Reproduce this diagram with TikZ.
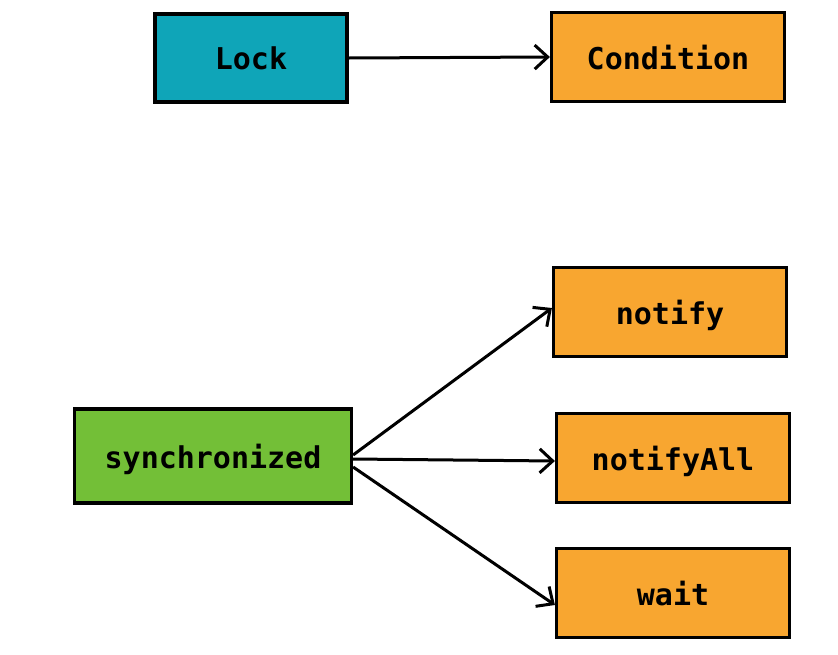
\documentclass[tikz,border=0pt]{standalone}
\usepackage{fontspec}
\setmonofont{DejaVu Sans Mono}
\usetikzlibrary{arrows.meta,positioning}
\definecolor{lockteal}{HTML}{0FA5B8}
\definecolor{condorange}{HTML}{F8A630}
\definecolor{syncgreen}{HTML}{73BF37}
\tikzset{
  box/.style={rectangle, draw=black, line width=3.2pt, font=\ttfamily\bfseries\fontsize{30}{32}\selectfont, inner sep=0pt, text depth=0pt, yshift=-2pt},
  lockbox/.style={box, fill=lockteal, minimum width=192pt, minimum height=88pt},
  condbox/.style={box, fill=condorange, minimum width=233pt, minimum height=89pt},
  syncbox/.style={box, fill=syncgreen, minimum width=277pt, minimum height=94pt},
  arrow/.style={-{Straight Barb[length=13pt,width=24pt,line width=3pt]}, line width=3pt}
}
\begin{document}
\begin{tikzpicture}[x=1pt,y=-1pt]
  \useasboundingbox (0,0) rectangle (838,654);
  \node[lockbox] (lock) at (251,56) {Lock};
  \node[condbox] (cond) at (668,55) {Condition};
  \node[condbox] (notify) at (670,310) {notify};
  \node[condbox] (notifyall) at (673,456) {notifyAll};
  \node[condbox] (wait) at (673,591) {wait};
  \node[syncbox] (sync) at (213,454) {synchronized};
  \draw[arrow] (lock.east) -- (cond.west);
  \draw[arrow] ([yshift=1pt]sync.east) -- ([yshift=4pt]notify.west);
  \draw[arrow] ([yshift=-3pt]sync.east) -- ([yshift=-3pt]notifyall.west);
  \draw[arrow] ([yshift=-11pt]sync.east) -- ([yshift=-12pt]wait.west);
\end{tikzpicture}
\end{document}
